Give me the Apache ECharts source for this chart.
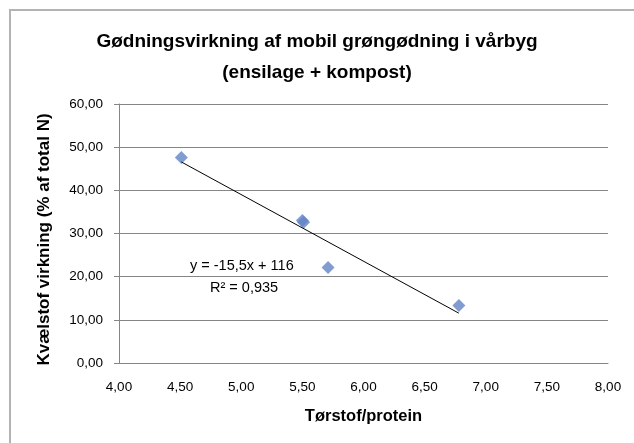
<!DOCTYPE html>
<html>
<head>
<meta charset="utf-8">
<script src="https://cdn.jsdelivr.net/npm/echarts@6/dist/echarts.min.js"></script>
<style>
  html, body { margin: 0; padding: 0; background: #fff; }
  #chart { width: 634px; height: 443px; }
</style>
</head>
<body>
<div id="chart"></div>
<script>
var titleLines = ['Gødningsvirkning af mobil grøngødning i vårbyg', '(ensilage + kompost)'];
var xName = 'Tørstof/protein';
var yName = 'Kvælstof virkning (% af total N)';

// measured points: ts/protein vs N-virkning
var tsProtein = [4.51, 5.50, 5.51, 5.71, 6.78];
var nVirkning = [47.6, 33.0, 32.6, 22.1, 13.3];

var eqText = 'y = -15,5x + 116';
var r2Text = 'R² = 0,935';

// linear trendline (least squares)
var n = tsProtein.length, mx = 0, my = 0;
for (var i = 0; i < n; i++) { mx += tsProtein[i]; my += nVirkning[i]; }
mx /= n; my /= n;
var sxy = 0, sxx = 0;
for (var i = 0; i < n; i++) {
  sxy += (tsProtein[i] - mx) * (nVirkning[i] - my);
  sxx += (tsProtein[i] - mx) * (tsProtein[i] - mx);
}
var slope = sxy / sxx, intercept = my - slope * mx;
var xMin = Math.min.apply(null, tsProtein), xMax = Math.max.apply(null, tsProtein);
var trend = [[xMin, slope * xMin + intercept], [xMax, slope * xMax + intercept]];

var pts = tsProtein.map(function (x, i) { return [x, nVirkning[i]]; });

function komma(v) { return v.toFixed(2).replace('.', ','); }

var font = 'Liberation Sans, Arial, sans-serif';

var myChart = echarts.init(document.getElementById('chart'));
var option = {
  backgroundColor: '#fff',
  textStyle: { fontFamily: font },
  title: {
    text: titleLines.join('\n'),
    left: 'center',
    top: 21,
    textStyle: { fontSize: 19, fontWeight: 'bold', color: '#000', lineHeight: 31, fontFamily: font }
  },
  grid: { left: 119, right: 26, top: 104, bottom: 80 },
  xAxis: {
    type: 'value',
    min: 4, max: 8, interval: 0.5,
    name: xName,
    nameLocation: 'middle',
    nameGap: 45,
    nameTextStyle: { fontSize: 16.5, fontWeight: 'bold', color: '#000' },
    axisLine: { show: true, lineStyle: { color: '#868686' } },
    axisTick: { show: false },
    splitLine: { show: false },
    axisLabel: { color: '#000', fontSize: 13.5, margin: 17, formatter: komma }
  },
  yAxis: {
    type: 'value',
    min: 0, max: 60, interval: 10,
    name: yName,
    nameLocation: 'middle',
    nameGap: 66,
    nameTextStyle: { fontSize: 17, fontWeight: 'bold', color: '#000', padding: [0, 12, 0, 0] },
    axisLine: { show: true, lineStyle: { color: '#868686' } },
    axisTick: { show: true, length: 5, lineStyle: { color: '#868686' } },
    splitLine: { lineStyle: { color: '#868686', width: 1 } },
    axisLabel: { color: '#000', fontSize: 13.5, margin: 16, formatter: komma }
  },
  graphic: [
    { type: 'rect', shape: { x: 10, y: 10, width: 640, height: 450 }, style: { fill: 'none', stroke: '#b3b3b3', lineWidth: 2 }, silent: true },
    { type: 'text', left: 190, top: 258, style: { text: eqText, fontSize: 14.5, fill: '#000', fontFamily: font } },
    { type: 'text', left: 210, top: 280, style: { text: r2Text, fontSize: 14.5, fill: '#000', fontFamily: font } }
  ],
  series: [
    {
      type: 'line',
      data: trend,
      symbol: 'none',
      lineStyle: { color: '#000', width: 1 },
      z: 3
    },
    {
      type: 'scatter',
      data: pts,
      symbol: 'diamond',
      symbolSize: 13,
      itemStyle: { color: '#6283c4' },
      z: 2
    }
  ]
};
myChart.setOption(option);
</script>
</body>
</html>
